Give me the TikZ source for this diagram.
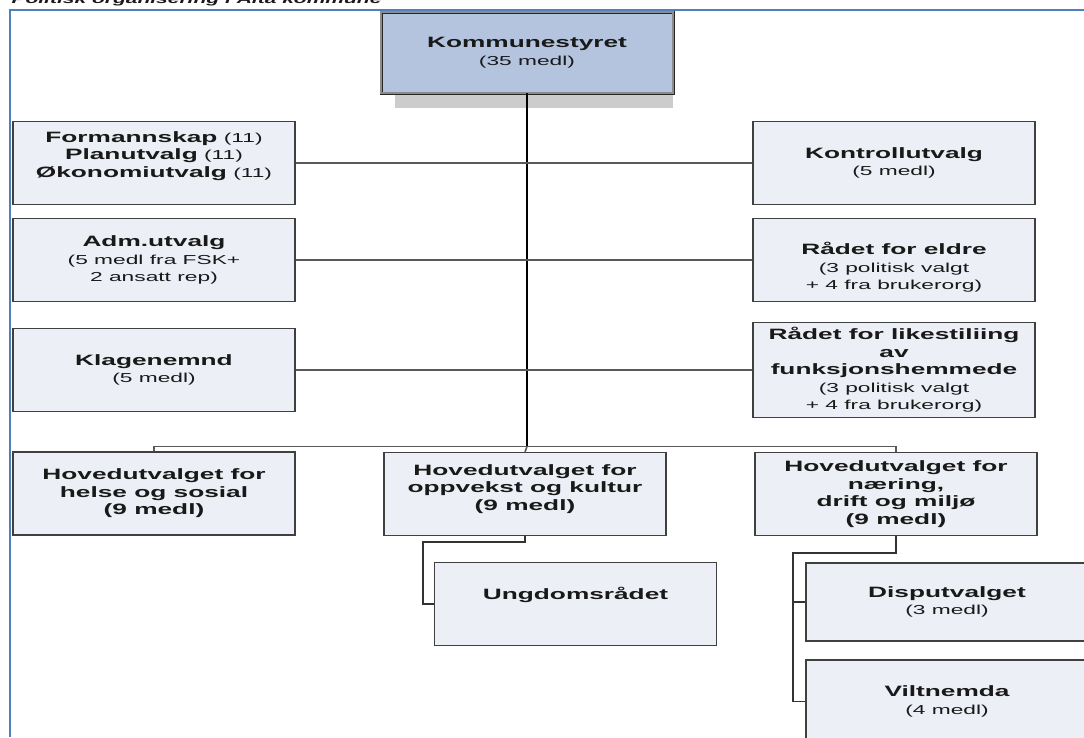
\documentclass[tikz,border=0pt]{standalone}
\usepackage{fontspec}
\setmainfont{Liberation Sans}[FakeStretch=1.75]
\usetikzlibrary{backgrounds}
\definecolor{boxfill}{RGB}{236,239,245}
\definecolor{topfill}{RGB}{180,196,222}
\definecolor{frameblue}{RGB}{79,129,189}
\newcommand{\orghead}[1]{{\fontsize{15}{17.5}\selectfont\bfseries #1}}
\begin{document}
\begin{tikzpicture}[x=1pt,y=-1pt,
    every node/.style={font=\fontsize{13}{17.5}\selectfont, text=black!90},
    box/.style={draw=black!75, line width=1.2pt, fill=boxfill, inner sep=0pt,
      minimum width=282pt, minimum height=83pt, align=center},
    topbox/.style={box, fill=topfill, draw=black!85, line width=0.9pt,
      double=black!45, double distance=1.2pt, minimum width=292pt, minimum height=81pt},
    trunk/.style={draw=black, line width=2.5pt},
    link/.style={draw=black!65, line width=1.6pt},
    child/.style={draw=black!80, line width=1.6pt}]
      \useasboundingbox (0,0) rectangle (1084,737);
      \clip (0,0) rectangle (1084,737);
      \node[anchor=base west, font=\fontsize{12}{14}\selectfont\bfseries\itshape] (title)
        at (8,3) {Politisk organisering i Alta kommune};
      \draw[frameblue, line width=1.2pt] (10,737) -- (10,10) -- (1084,10);
      % top
      \node[topbox] (ks) at (527,52.5) {\orghead{Kommunestyret}\\(35 medl)};
      % left column
      \node[box, text depth=17pt] (fsk) at (154,163)
        {\orghead{Formannskap} (11)\\\orghead{Planutvalg} (11)\\\orghead{Økonomiutvalg} (11)};
      \node[box] (adm) at (154,260) {\orghead{Adm.utvalg}\\(5 medl fra FSK+\\2 ansatt rep)};
      \node[box] (klage) at (154,370) {\orghead{Klagenemnd}\\(5 medl)};
      % right column
      \node[box] (kontroll) at (894,163) {\orghead{Kontrollutvalg}\\(5 medl)};
      \node[box, text height=62pt] (eldre) at (894,260) {\orghead{Rådet for eldre}\\(3 politisk valgt\\+ 4 fra brukerorg)};
      \node[box, minimum height=95pt] (likest) at (894,370)
        {\orghead{Rådet for likestiliing}\\\orghead{av}\\\orghead{funksjonshemmede}\\(3 politisk valgt\\+ 4 fra brukerorg)};
      % hovedutvalg
      \node[box] (hu1) at (154,493.5) {\orghead{Hovedutvalget for}\\\orghead{helse og sosial}\\\orghead{(9 medl)}};
      \node[box, text depth=13pt] (hu2) at (525,494) {\orghead{Hovedutvalget for}\\\orghead{oppvekst og kultur}\\\orghead{(9 medl)}};
      \node[box] (hu3) at (896,494) {\orghead{Hovedutvalget for}\\\orghead{næring,}\\\orghead{drift og miljø}\\\orghead{(9 medl)}};
      \node[box, text depth=21pt] (ungdom) at (575.5,604) {\orghead{Ungdomsrådet}};
      \node[box, minimum height=78pt] (disput) at (947,602) {\orghead{Disputvalget}\\(3 medl)};
      \node[box] (vilt) at (947,701.5) {\orghead{Viltnemda}\\(4 medl)};
      \begin{scope}[on background layer]
        \fill[black!20] ([xshift=14pt]ks.south west) rectangle ([yshift=-15pt]ks.south east);
      \end{scope}
      \coordinate (bus) at (527,446.5);
      \coordinate (j2) at (423,542);
      \coordinate (j3) at (793,553);
      \draw[trunk] (ks.south) -- (bus);
      \draw[link] (fsk.east) -- (fsk.east -| bus);
      \draw[link] (adm.east) -- (adm.east -| bus);
      \draw[link] (klage.east) -- (klage.east -| bus);
      \draw[link] (kontroll.west) -- (kontroll.west -| bus);
      \draw[link] (eldre.west) -- (eldre.west -| bus);
      \draw[link] (likest.west) -- (likest.west -| bus);
      \draw[link] (hu1.north) |- (bus) -| (hu3.north);
      \draw[link] (bus) -- (hu2.north);
      \draw[child] (hu2.south) |- (j2) |- (ungdom.west);
      \draw[child] (hu3.south) |- (j3) |- (vilt.west);
      \draw[child] (j3) |- (disput.west);
\end{tikzpicture}
\end{document}
